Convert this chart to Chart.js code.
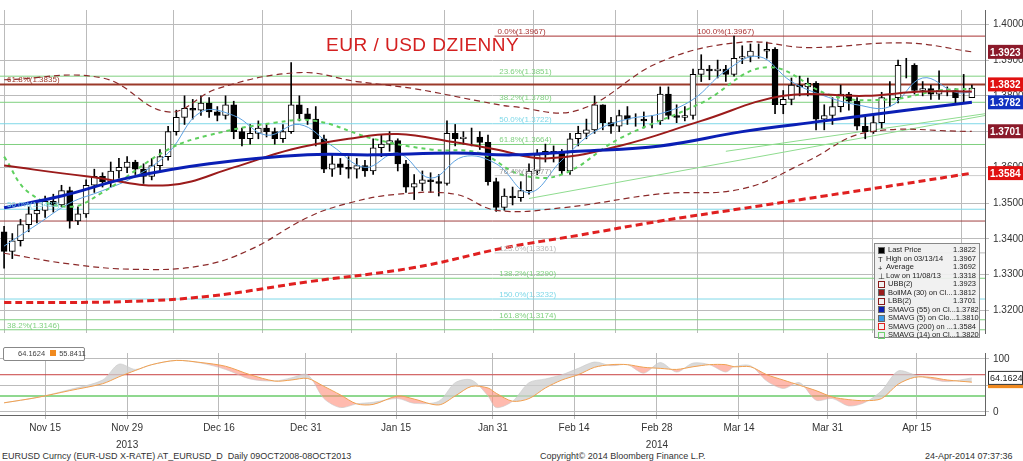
<!DOCTYPE html>
<html>
<head>
<meta charset="utf-8">
<script src="https://cdn.jsdelivr.net/npm/chart.js@4"></script>
<style>
body{margin:0;width:1023px;height:461px;overflow:hidden;background:#fff;font-family:"Liberation Sans",Arial,sans-serif;}
#main{position:absolute;left:0;top:0;}
#osc{position:absolute;left:0;top:343px;}
.t{position:absolute;font-size:9px;color:#333;white-space:nowrap;}
#title{position:absolute;left:326px;top:34px;font-size:19px;color:#d42020;letter-spacing:0.5px;}
#leg{position:absolute;left:874px;top:243px;width:106px;height:95px;background:rgba(240,240,240,0.92);border:1px solid #888;font-size:7.5px;color:#222;line-height:8.5px;padding:2px 3px;box-sizing:border-box;white-space:nowrap;}
#leg div{display:flex;justify-content:space-between;}
#leg span.k{display:inline-block;width:5px;height:5px;margin-right:3px;vertical-align:middle;border:1px solid #666;}
#oleg{position:absolute;left:3px;top:347px;width:82px;height:14px;border:1px solid #888;border-radius:2px;background:#fff;font-size:7.5px;color:#444;line-height:12px;padding-left:14px;box-sizing:border-box;white-space:nowrap;}
</style>
</head>
<body>
<canvas id="main" width="1023" height="343"></canvas>
<canvas id="osc" width="1023" height="106"></canvas>
<div id="title">EUR / USD DZIENNY</div>
<div id="leg">
<div><span><span class="k" style="background:#000"></span>Last Price</span><span>1.3822</span></div>
<div><span><span class="k" style="border:none">T</span>High on 03/13/14</span><span>1.3967</span></div>
<div><span><span class="k" style="border:none">+</span>Average</span><span>1.3692</span></div>
<div><span><span class="k" style="border:none">⊥</span>Low on 11/08/13</span><span>1.3318</span></div>
<div><span><span class="k" style="border-color:#8b1a1a"></span>UBB(2)</span><span>1.3923</span></div>
<div><span><span class="k" style="background:#9b1b1b"></span>BollMA (30) on Cl...</span><span>1.3812</span></div>
<div><span><span class="k" style="border-color:#8b1a1a"></span>LBB(2)</span><span>1.3701</span></div>
<div><span><span class="k" style="background:#0a1fb5"></span>SMAVG (55) on Cl...</span><span>1.3782</span></div>
<div><span><span class="k" style="background:#3a9be8"></span>SMAVG (5) on Clo...</span><span>1.3810</span></div>
<div><span><span class="k" style="border-color:#e02020"></span>SMAVG (200) on ...</span><span>1.3584</span></div>
<div><span><span class="k" style="border-color:#6fd06f"></span>SMAVG (14) on Cl...</span><span>1.3820</span></div>
</div>
<div id="oleg">64.1624<span style="display:inline-block;width:6px;height:6px;background:#f08a20;margin:0 3px 0 5px"></span>55.8411</div>
<div class="t" style="left:2px;top:451px">EURUSD Curncy (EUR-USD X-RATE) AT_EURUSD_D&nbsp; Daily 09OCT2008-08OCT2013</div>
<div class="t" style="left:540px;top:451px">Copyright© 2014 Bloomberg Finance L.P.</div>
<div class="t" style="left:925px;top:451px">24-Apr-2014 07:37:36</div>
<script>
// candles, one per trading day from 08 Nov 2013 (index 0) to 23 Apr 2014
const closes = [1.3365,1.3395,1.3440,1.3470,1.3480, 1.3505,1.3495,1.3535,1.3450,1.3470,
 1.3550,1.3575,1.3560,1.3590,1.3600, 1.3615,1.3595,1.3575,1.3605,1.3630,
 1.3700,1.3740,1.3765,1.3760,1.3780, 1.3755,1.3745,1.3775,1.3700,1.3680,
 1.3695,1.3710,1.3700,1.3680,1.3700, 1.3775,1.3750,1.3735,1.3680,1.3595,
 1.3610,1.3600,1.3595,1.3605,1.3590, 1.3655,1.3665,1.3675,1.3610,1.3545,
 1.3555,1.3565,1.3560,1.3555,1.3695, 1.3680,1.3685,1.3685,1.3670,1.3560,
 1.3488,1.3520,1.3515,1.3535,1.3590, 1.3635,1.3645,1.3640,1.3590,1.3680,
 1.3695,1.3705,1.3775,1.3725,1.3715, 1.3745,1.3735,1.3735,1.3730,1.3730,
 1.3805,1.3745,1.3740,1.3745,1.3860, 1.3875,1.3870,1.3875,1.3860,1.3905,
 1.3910,1.3925,1.3925,1.3930,1.3775, 1.3790,1.3830,1.3825,1.3835,1.3735,
 1.3745,1.3770,1.3805,1.3785,1.3715, 1.3700,1.3725,1.3795,1.3795,1.3885,
 1.3885,1.3815,1.3820,1.3805,1.3815, 1.3815,1.3795,1.3795,1.3822];
const firstOpen = 1.3420;
const highs = [1.3435,1.3415,1.3455,1.3490,1.3500, 1.3520,1.3525,1.3550,1.3545,1.3490,
 1.3565,1.3595,1.3585,1.3615,1.3625, 1.3630,1.3620,1.3610,1.3625,1.3650,
 1.3715,1.3760,1.3800,1.3790,1.3800, 1.3795,1.3770,1.3800,1.3785,1.3710,
 1.3720,1.3730,1.3720,1.3710,1.3720, 1.3893,1.3800,1.3765,1.3770,1.3690,
 1.3635,1.3625,1.3630,1.3625,1.3620, 1.3680,1.3690,1.3700,1.3680,1.3620,
 1.3580,1.3590,1.3585,1.3580,1.3730, 1.3720,1.3700,1.3710,1.3700,1.3690,
 1.3570,1.3540,1.3545,1.3560,1.3610, 1.3650,1.3665,1.3660,1.3650,1.3695,
 1.3715,1.3735,1.3800,1.3775,1.3740, 1.3760,1.3770,1.3750,1.3755,1.3745,
 1.3825,1.3825,1.3775,1.3770,1.3875, 1.3915,1.3885,1.3900,1.3885,1.3967,
 1.3940,1.3945,1.3945,1.3950,1.3935, 1.3815,1.3850,1.3855,1.3850,1.3840,
 1.3775,1.3795,1.3830,1.3810,1.3795, 1.3740,1.3750,1.3810,1.3840,1.3900,
 1.3905,1.3890,1.3840,1.3830,1.3870, 1.3825,1.3820,1.3860,1.3830];
const lows = [1.3318,1.3345,1.3380,1.3420,1.3445, 1.3460,1.3475,1.3490,1.3430,1.3440,
 1.3460,1.3530,1.3545,1.3545,1.3570, 1.3585,1.3580,1.3555,1.3565,1.3590,
 1.3620,1.3690,1.3720,1.3735,1.3745, 1.3740,1.3730,1.3735,1.3680,1.3660,
 1.3665,1.3680,1.3685,1.3665,1.3670, 1.3695,1.3730,1.3720,1.3660,1.3585,
 1.3575,1.3580,1.3570,1.3570,1.3575, 1.3580,1.3630,1.3645,1.3590,1.3530,
 1.3510,1.3535,1.3530,1.3520,1.3550, 1.3660,1.3665,1.3660,1.3650,1.3550,
 1.3477,1.3480,1.3495,1.3505,1.3525, 1.3580,1.3615,1.3615,1.3580,1.3580,
 1.3660,1.3680,1.3695,1.3705,1.3695, 1.3700,1.3720,1.3715,1.3710,1.3710,
 1.3720,1.3735,1.3725,1.3730,1.3735, 1.3840,1.3845,1.3850,1.3840,1.3855,
 1.3890,1.3895,1.3905,1.3905,1.3750, 1.3750,1.3775,1.3800,1.3800,1.3705,
 1.3705,1.3720,1.3755,1.3760,1.3705, 1.3680,1.3695,1.3710,1.3770,1.3780,
 1.3850,1.3805,1.3800,1.3790,1.3790, 1.3800,1.3780,1.3780,1.3795];

// indicator lines at a few day indices
const sma55Idx = [0,7,15,25,37,45,55,62,70,80,90,100,110,118];
const sma55 = [1.3487,1.3520,1.3570,1.3610,1.3635,1.3635,1.3640,1.3635,1.3645,1.3660,1.3700,1.3730,1.3760,1.3782];
const sma200Idx = [0,15,25,37,50,61,70,80,90,100,110,118];
const sma200 = [1.3222,1.3225,1.3240,1.3280,1.3320,1.3375,1.3410,1.3450,1.3485,1.3520,1.3555,1.3584];
const bollIdx = [0,10,20,28,35,42,48,55,60,66,75,85,95,105,112,118];
const bollMid = [1.3605,1.3575,1.3550,1.3600,1.3650,1.3680,1.3693,1.3670,1.3650,1.3625,1.3660,1.3730,1.3800,1.3800,1.3812,1.3812];
const ubbIdx = [0,12,20,26,36,43,50,58,62,70,80,90,98,110,118];
const ubb = [1.3845,1.3850,1.3755,1.3820,1.3865,1.3840,1.3820,1.3785,1.3770,1.3760,1.3895,1.3950,1.3935,1.3948,1.3923];
const lbbIdx = [0,8,16,24,30,37,42,48,55,60,68,80,90,98,105,118];
const lbb = [1.3360,1.3330,1.3315,1.3325,1.3370,1.3460,1.3500,1.3525,1.3525,1.3480,1.3487,1.3526,1.3540,1.3618,1.3697,1.3701];
const sma14Idx = [0,3,8,12,20,25,33,38,45,52,58,63,68,75,85,93,101,108,114,118];
const sma14 = [1.3630,1.3530,1.3490,1.3530,1.3650,1.3690,1.3725,1.3730,1.3680,1.3650,1.3640,1.3580,1.3580,1.3680,1.3780,1.3880,1.3800,1.3790,1.3815,1.3820];
const sma5Idx = [0,4,8,12,16,20,24,28,32,36,40,44,48,52,56,60,64,68,72,76,80,84,88,92,96,100,104,108,112,116,118];
const sma5 = [1.3380,1.3440,1.3500,1.3535,1.3575,1.3640,1.3755,1.3745,1.3690,1.3720,1.3660,1.3600,1.3640,1.3570,1.3630,1.3610,1.3530,1.3620,1.3700,1.3735,1.3750,1.3790,1.3870,1.3910,1.3840,1.3800,1.3775,1.3770,1.3850,1.3810,1.3810];

// horizontal levels: price, colour, first day index, label
const levelPrice = [1.3967,1.3855,1.3832,1.3782,1.3722,1.3664,1.3577,1.3483,1.3450,1.3361,1.3290,1.3232,1.3174,1.3146];
const levelColor = ['#a83232','#7fd07f','#9b3a2a','#7fd07f','#7fd8e8','#7fd07f','#cccccc','#7fd8e8','#a04040','#bbbbbb','#7fd07f','#7fd8e8','#7fd07f','#7fd07f'];
const levelStart = [59.8,-1,-1,-1,-1,-1,59.8,-1,-1,59.8,-1,-1,-1,-1];
const levelText = ['0.0%(1.3967)','23.6%(1.3851)','61.8%(1.3835)','38.2%(1.3780)','50.0%(1.3722)','61.8%(1.3664)','76.4%(1.3577)','50.0%(1.3483)','','123.6%(1.3361)','138.2%(1.3290)','150.0%(1.3232)','161.8%(1.3174)','38.2%(1.3146)'];
const levelTextIdx = [59.8,60,0,60,60,60,60,0,0,60,60,60,60,0];
const trendX = [[64,119.6],[88,119.6]];
const trendY = [[1.3513,1.3745],[1.3645,1.3750]];

// right-hand value tags
const tagPrice = [1.3923,1.3832,1.3782,1.3701,1.3584];
const tagColor = ['#8b1a2a','#e01010','#1030c0','#8b1a2a','#e01010'];

// stochastic panel
const oscIdx = [0,4,8,12,14,16,18,21,24,27,30,33,35,37,39,41,43,45,48,50,53,55,57,59,60,62,64,66,68,70,72,74,76,78,80,82,84,86,88,89,91,93,95,97,99,101,103,105,107,109,111,113,115,118];
const oscD = [17,27,40,53,66,78,89,97,93,86,70,58,60,63,48,32,15,14,30,24,13,30,48,45,35,20,25,45,60,70,84,89,89,84,82,80,85,89,89,85,85,70,60,50,40,28,23,21,25,52,65,65,60,56];
const oscK = [17,27,42,60,90,80,89,97,92,80,62,58,64,70,25,8,15,18,25,16,20,55,60,30,8,20,55,62,70,82,94,87,89,73,93,75,92,89,75,85,87,58,44,55,22,25,11,18,40,77,70,62,57,64];

// x tick positions (day index) and labels
const tickIdx = [5,15,26.2,36.8,47.8,59.6,69.5,79.6,89.6,100.4,111.3];
const tickText = ['Nov 15','Nov 29','Dec 16','Dec 31','Jan 15','Jan 31','Feb 14','Feb 28','Mar 14','Mar 31','Apr 15'];
const yearIdx = [15,79.6];
const yearText = ['2013','2014'];

const X_MIN = -0.5, X_MAX = 119.6;
const pts = (xs, ys) => xs.map((x, i) => ({x: x, y: ys[i]}));
const opens = closes.map((c, i) => i === 0 ? firstOpen : closes[i - 1]);

const gridDots = {color: '#bbb', lineWidth: 1, drawTicks: false};
Chart.defaults.font.family = '"Liberation Sans", Arial, sans-serif';
Chart.defaults.animation = false;

function lineDs(data, color, width, dash, order) {
  return {type: 'line', data: data, borderColor: color, borderWidth: width, borderDash: dash || [],
    pointRadius: 0, tension: 0.4, fill: false, order: order};
}

const datasets = [];
levelPrice.forEach((p, i) => {
  datasets.push({type: 'line', data: [{x: levelStart[i] < 0 ? X_MIN : levelStart[i], y: p}, {x: X_MAX, y: p}],
    borderColor: levelColor[i], borderWidth: i === 2 ? 2 : 1, pointRadius: 0, order: 30});
});
trendX.forEach((tx, i) => datasets.push({type: 'line', data: pts(tx, trendY[i]), borderColor: '#8fdc8f', borderWidth: 1, pointRadius: 0, order: 25}));
datasets.push({type: 'bar', data: closes.map((c, i) => ({x: i, y: [lows[i], highs[i]]})), backgroundColor: '#000', barThickness: 1, order: 21, grouped: false});
datasets.push({type: 'bar', data: closes.map((c, i) => ({x: i, y: [opens[i], c]})),
  backgroundColor: closes.map((c, i) => c < opens[i] ? '#000' : '#fff'), borderColor: '#000', borderWidth: 1,
  borderSkipped: false, barThickness: 6, order: 20, grouped: false});
datasets.push(lineDs(pts(sma200Idx, sma200), '#e02020', 3, [7, 4], 5));
datasets.push(lineDs(pts(ubbIdx, ubb), '#8b2a2a', 1.2, [6, 4], 4));
datasets.push(lineDs(pts(lbbIdx, lbb), '#8b2a2a', 1.2, [6, 4], 4));
datasets.push(lineDs(pts(sma14Idx, sma14), '#5ed05e', 2, [4, 4], 3));
datasets.push(lineDs(pts(sma5Idx, sma5), '#5aa0e0', 1, [], 3));
datasets.push(lineDs(pts(bollIdx, bollMid), '#9b1b1b', 2, [], 2));
datasets.push(lineDs(pts(sma55Idx, sma55), '#0a1fb5', 3, [], 1));

function fixTicks(scale) { scale.ticks = tickIdx.map(v => ({value: v})); }

const overlay = {
  id: 'overlay',
  afterDatasetsDraw(chart) {
    const c = chart.ctx, xs = chart.scales.x, ys = chart.scales.y;
    c.save();
    c.font = '8px "Liberation Sans", Arial';
    levelText.forEach((t, i) => {
      if (!t) return;
      c.fillStyle = levelColor[i] === '#cccccc' ? '#999' : levelColor[i];
      c.fillText(t, xs.getPixelForValue(levelTextIdx[i]) + 3, ys.getPixelForValue(levelPrice[i]) - 2);
    });
    c.fillStyle = '#a83232';
    c.fillText('100.0%(1.3967)', xs.getPixelForValue(84.5), ys.getPixelForValue(1.3967) - 2);
    c.font = 'bold 10px "Liberation Sans", Arial';
    tagPrice.forEach((p, i) => {
      const y = ys.getPixelForValue(p);
      c.fillStyle = tagColor[i];
      c.fillRect(988, y - 7, 35, 14);
      c.fillStyle = '#fff';
      c.fillText(p.toFixed(4), 990, y + 4);
    });
    c.restore();
  }
};

new Chart(document.getElementById('main'), {
  data: {datasets: datasets},
  options: {
    responsive: false, layout: {padding: 0},
    plugins: {legend: {display: false}, tooltip: {enabled: false}},
    scales: {
      x: {type: 'linear', offset: false, min: X_MIN, max: X_MAX, afterBuildTicks: fixTicks,
        ticks: {display: false}, grid: gridDots, border: {display: false}},
      y: {position: 'right', min: 1.3137, max: 1.4040,
        afterBuildTicks: s => { s.ticks = [1.32,1.33,1.34,1.35,1.36,1.37,1.38,1.39,1.40].map(v => ({value: v})); },
        afterFit: s => { s.width = 38; },
        ticks: {callback: v => v.toFixed(4), color: '#333', font: {size: 10}, padding: 4},
        grid: {color: '#bbb', drawTicks: true, tickLength: 4}, border: {color: '#666'}}
    }
  },
  plugins: [overlay]
});

const oscOverlay = {
  id: 'oscOverlay',
  afterDatasetsDraw(chart) {
    const c = chart.ctx, xs = chart.scales.x, ys = chart.scales.y;
    c.save();
    c.font = '10px "Liberation Sans", Arial';
    c.fillStyle = '#333';
    c.textAlign = 'center';
    yearIdx.forEach((v, i) => c.fillText(yearText[i], xs.getPixelForValue(v), 105));
    c.textAlign = 'left';
    let y = ys.getPixelForValue(oscD[oscD.length - 1]);
    c.fillStyle = '#f08a20';
    c.fillRect(988, y - 1, 35, 7);
    y = ys.getPixelForValue(oscK[oscK.length - 1]);
    c.fillStyle = '#fff';
    c.strokeStyle = '#333';
    c.fillRect(988, y - 7, 35, 14);
    c.strokeRect(988.5, y - 6.5, 34, 13);
    c.fillStyle = '#222';
    c.font = '9px "Liberation Sans", Arial';
    c.fillText('64.1624', 990, y + 3);
    c.restore();
  }
};

new Chart(document.getElementById('osc'), {
  data: {datasets: [
    {type: 'line', data: [{x: X_MIN, y: 70}, {x: X_MAX, y: 70}], borderColor: '#c84040', borderWidth: 1, pointRadius: 0, order: 10},
    {type: 'line', data: [{x: X_MIN, y: 30}, {x: X_MAX, y: 30}], borderColor: '#8fd88f', borderWidth: 2, pointRadius: 0, order: 10},
    {type: 'line', data: pts(oscIdx, oscK), borderColor: 'rgba(200,200,200,0.6)', borderWidth: 1, pointRadius: 0, tension: 0.3,
      fill: {target: 3, above: 'rgba(205,205,205,0.75)', below: 'rgba(255,140,120,0.6)'}, order: 2},
    {type: 'line', data: pts(oscIdx, oscD), borderColor: '#f0a050', borderWidth: 1, pointRadius: 0, tension: 0.3, fill: false, order: 1}
  ]},
  options: {
    responsive: false, layout: {padding: {top: 0, bottom: 12}},
    plugins: {legend: {display: false}, tooltip: {enabled: false}},
    scales: {
      x: {type: 'linear', min: X_MIN, max: X_MAX, afterBuildTicks: fixTicks,
        ticks: {callback: (v, i) => tickText[i], color: '#333', font: {size: 10}, padding: 3, maxRotation: 0, autoSkip: false},
        grid: {color: '#bbb', tickLength: 4}, border: {color: '#666'}},
      y: {position: 'right', min: -6, max: 111,
        afterBuildTicks: s => { s.ticks = [0, 50, 100].map(v => ({value: v})); },
        afterFit: s => { s.width = 38; },
        ticks: {color: '#333', font: {size: 10}, padding: 4},
        grid: {color: '#bbb', tickLength: 4}, border: {color: '#666'}}
    }
  },
  plugins: [oscOverlay]
});
</script>
</body>
</html>
